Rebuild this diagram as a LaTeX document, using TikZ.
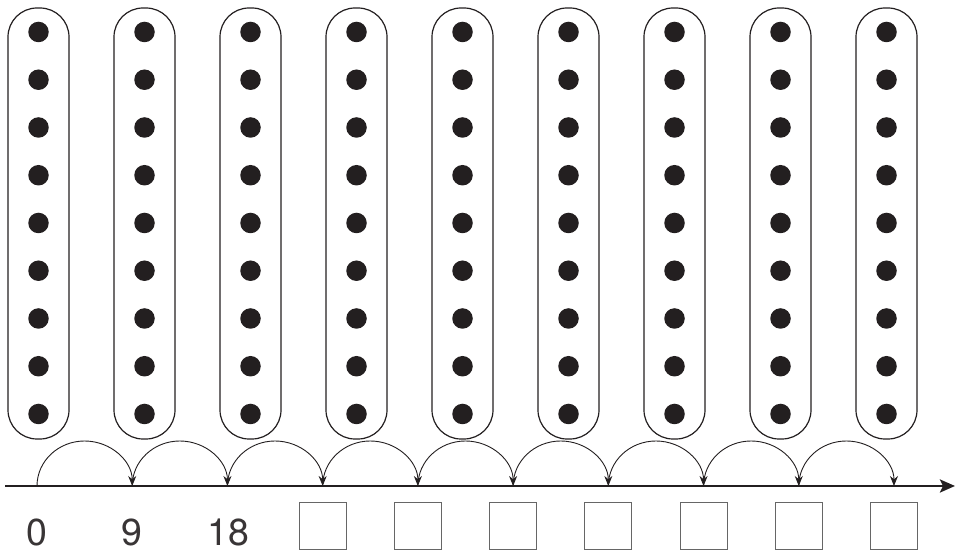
\documentclass[tikz,border=0pt]{standalone}
\usepackage{fontspec}
\setmainfont{TeX Gyre Heros}
\usetikzlibrary{arrows.meta}
\definecolor{ink}{HTML}{231F20}
\tikzset{
  colbox/.style={draw=ink, line width=1.2pt, rounded corners=29pt, minimum width=61pt, minimum height=431pt, inner sep=0pt},
  bead/.style={circle, fill=ink, minimum size=20.5pt, inner sep=0pt},
  hop/.style={draw=ink, line width=0.9pt, -{Stealth[length=10pt,width=8pt]}},
  axisline/.style={draw=ink, line width=2.6pt, -{Stealth[length=15pt,width=13pt,inset=3pt]}},
  ansbox/.style={draw=black!60, line width=1pt, minimum size=47pt, inner sep=0pt},
  numlab/.style={font=\fontsize{37.5}{42}\selectfont, text=ink!90, inner sep=0pt}
}
\begin{document}
\begin{tikzpicture}[x=1pt,y=1pt]
\useasboundingbox (0,0) rectangle (956,551);
% columns of dots
\foreach \i in {0,...,8}{
  \node[colbox] (box\i) at ({38.5+106*\i},327.5) {};
  \foreach \j in {0,...,8}{
    \node[bead] (dot\i-\j) at ({38.5+106*\i},{519-47.75*\j}) {};
  }
}
% axis
\coordinate (axL) at (5,65);
\coordinate (axR) at (955,65);
\draw[axisline] (axL) -- (axR);
% ticks
\foreach \j in {0,...,9}{
  \coordinate (t\j) at ({37+95.22*\j},65);
}
% hops
\foreach \j in {0,...,8}{
  \draw[hop] (t\j) arc[start angle=180, end angle=0, x radius=47.61, y radius=45];
}
% labels
\node[numlab] (lab0) at (36.5,18.5) {0};
\node[numlab] (lab1) at (132.2,18.5) {9};
\node[numlab] (lab2) at (228,18.5) {18};
\foreach \j in {3,...,9}{
  \node[ansbox] (sq\j) at ({37+95.22*\j},24.5) {};
}
\end{tikzpicture}
\end{document}
